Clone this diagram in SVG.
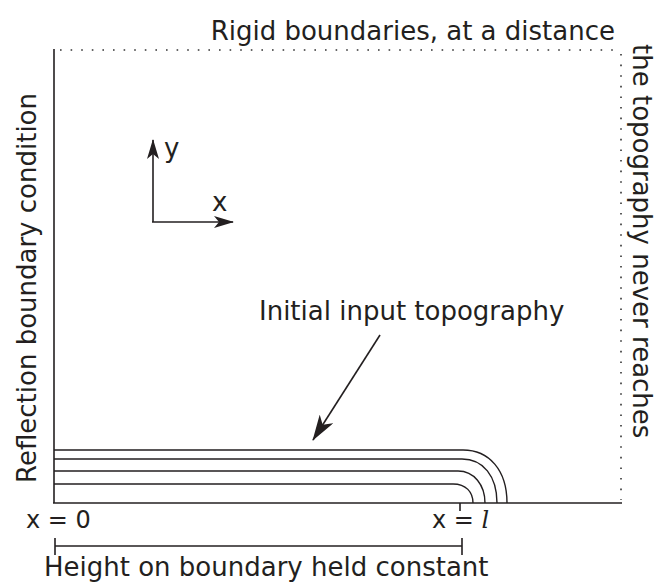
<svg xmlns="http://www.w3.org/2000/svg" width="664" height="583" viewBox="0 0 664 583">
<style>
text{font-family:"DejaVu Sans","Liberation Sans",sans-serif;fill:#231f20;font-size:26px}
.sm{font-size:24px}
.dot{stroke:#333;stroke-width:1.6;stroke-dasharray:1.6 9;fill:none}
.solid{stroke:#231f20;stroke-width:1.6;fill:none}
.topo{stroke:#231f20;stroke-width:1.4;fill:none}
</style>
<defs>
<marker id="ah" viewBox="0 0 20 12" refX="19" refY="6" markerWidth="20" markerHeight="12" markerUnits="userSpaceOnUse" orient="auto">
<path d="M0,0 L20,6 L0,12 L5,6 Z" fill="#231f20"/>
</marker>
<marker id="ahl" viewBox="0 0 26 16" refX="25" refY="8" markerWidth="26" markerHeight="16" markerUnits="userSpaceOnUse" orient="auto">
<path d="M0,0 L26,8 L0,16 L7,8 Z" fill="#231f20"/>
</marker>
</defs>
<g id="boundaries">
<line class="dot" x1="60" y1="50" x2="616" y2="50"/>
<line class="dot" x1="621" y1="54" x2="621" y2="500"/>
<line class="solid" x1="54" y1="49" x2="54" y2="503"/>
<line class="solid" x1="53" y1="503" x2="622" y2="503"/>
</g>
<g id="topography">
<path class="topo" d="M54,450 H463 C489,450 507,470 507,503"/>
<path class="topo" d="M54,459 H462 C483,459 497,476 497,503"/>
<path class="topo" d="M54,471 H458 C474,471 485,485 485,503"/>
<path class="topo" d="M54,484 H453 C466,484 473,492 473,503"/>
</g>
<g id="axes">
<line class="solid" x1="153" y1="222" x2="153" y2="140" marker-end="url(#ah)"/>
<line class="solid" x1="152" y1="222" x2="233" y2="222" marker-end="url(#ah)"/>
<text x="164" y="157">y</text>
<text x="212" y="211">x</text>
</g>
<g id="connectors">
<line class="solid" stroke-width="2.4" x1="380" y1="335" x2="313" y2="440" marker-end="url(#ahl)"/>
<line class="solid" x1="55" y1="546" x2="462" y2="546"/>
<line class="solid" x1="55" y1="538" x2="55" y2="555"/>
<line class="solid" x1="462" y1="538" x2="462" y2="555"/>
<line class="solid" x1="460" y1="503" x2="460" y2="511"/>
</g>
<g id="labels">
<text x="615" y="40" text-anchor="end">Rigid boundaries, at a distance</text>
<text transform="translate(633,44) rotate(90)">the topography never reaches</text>
<text transform="translate(36,483) rotate(-90)">Reflection boundary condition</text>
<text x="259" y="320">Initial input topography</text>
<text class="sm" x="26" y="528">x = 0</text>
<text class="sm" x="432" y="528">x = <tspan font-family="'DejaVu Serif','Liberation Serif',serif" font-style="italic">l</tspan></text>
<text x="44" y="576">Height on boundary held constant</text>
</g>
</svg>
